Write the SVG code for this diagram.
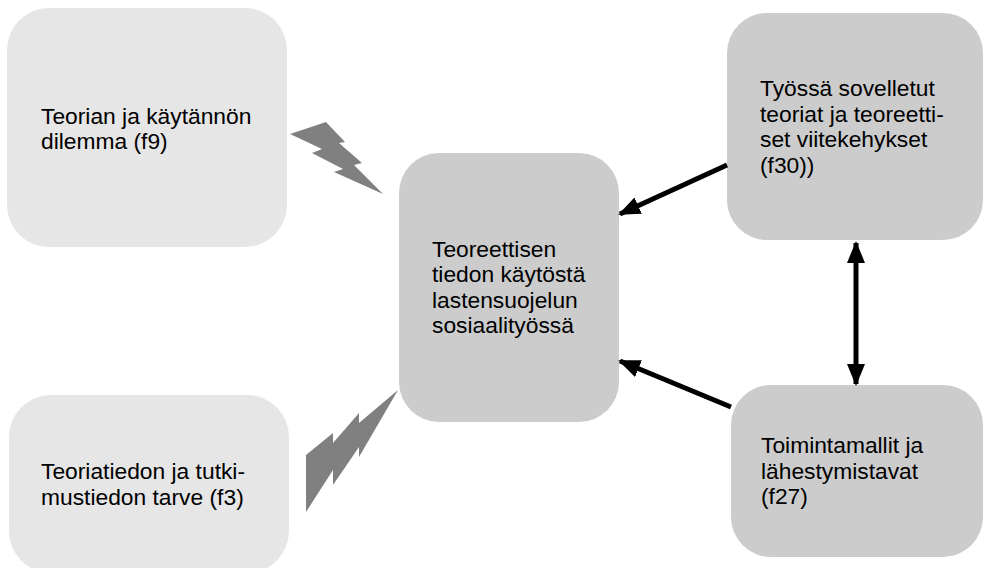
<svg xmlns="http://www.w3.org/2000/svg" width="985" height="568" viewBox="0 0 985 568">
  <style>
    .light { fill: #e6e6e6; }
    .mid { fill: #cccccc; }
    .bolt { fill: #808080; }
    .label { font-family: "Liberation Sans", Arial, sans-serif; font-size: 22.8px; fill: #000000; }
    .arrow { stroke: #000000; stroke-width: 5; fill: none; }
  </style>
  <defs>
    <marker id="head" viewBox="0 0 22 18" refX="20" refY="9" markerWidth="22" markerHeight="18" markerUnits="userSpaceOnUse" orient="auto-start-reverse">
      <path d="M0,0 L22,9 L0,18 Z" fill="#000000"/>
    </marker>
  </defs>

  <rect width="985" height="568" fill="#ffffff"/>

  <g id="dilemma">
    <rect class="light" x="7" y="8" width="280" height="239" rx="42"/>
    <text class="label" x="41" y="123.5">Teorian ja käytännön</text>
    <text class="label" x="41" y="149">dilemma (f9)</text>
  </g>

  <g id="tarve">
    <rect class="light" x="9" y="395" width="280" height="178" rx="42"/>
    <text class="label" x="41" y="479">Teoriatiedon ja tutki-</text>
    <text class="label" x="41" y="504.5">mustiedon tarve (f3)</text>
  </g>

  <g id="keskus">
    <rect class="mid" x="399" y="153" width="220" height="269" rx="40"/>
    <text class="label" x="432" y="256.5">Teoreettisen</text>
    <text class="label" x="432" y="282">tiedon käytöstä</text>
    <text class="label" x="432" y="307.5">lastensuojelun</text>
    <text class="label" x="432" y="333">sosiaalityössä</text>
  </g>

  <g id="teoriat">
    <rect class="mid" x="727" y="13" width="256" height="227" rx="40"/>
    <text class="label" x="760" y="96">Työssä sovelletut</text>
    <text class="label" x="760" y="121.5">teoriat ja teoreetti-</text>
    <text class="label" x="760" y="147">set viitekehykset</text>
    <text class="label" x="760" y="172.5">(f30))</text>
  </g>

  <g id="toimintamallit">
    <rect class="mid" x="731" y="385" width="252" height="172" rx="40"/>
    <text class="label" x="761" y="453">Toimintamallit ja</text>
    <text class="label" x="761" y="478.5">lähestymistavat</text>
    <text class="label" x="761" y="504">(f27)</text>
  </g>

  <g id="connectors">
    <!-- lightning bolts -->
    <path class="bolt" d="M290,134 L326,122 L345,142 L339,143 L362,163 L354,165 L383,194 L334,172 L343,169 L312,153 L322,149 Z"/>
    <path class="bolt" d="M306,455 L333,433 L333,443 L359,413 L359,423 L398,390 L359,457 L359,447 L333,485 L333,470 L306,512 Z"/>
    <!-- arrows -->
    <line class="arrow" x1="727" y1="165" x2="620" y2="214" marker-end="url(#head)"/>
    <line class="arrow" x1="731" y1="407" x2="620" y2="361" marker-end="url(#head)"/>
    <line class="arrow" x1="856" y1="243" x2="856" y2="384" marker-start="url(#head)" marker-end="url(#head)"/>
  </g>
</svg>
